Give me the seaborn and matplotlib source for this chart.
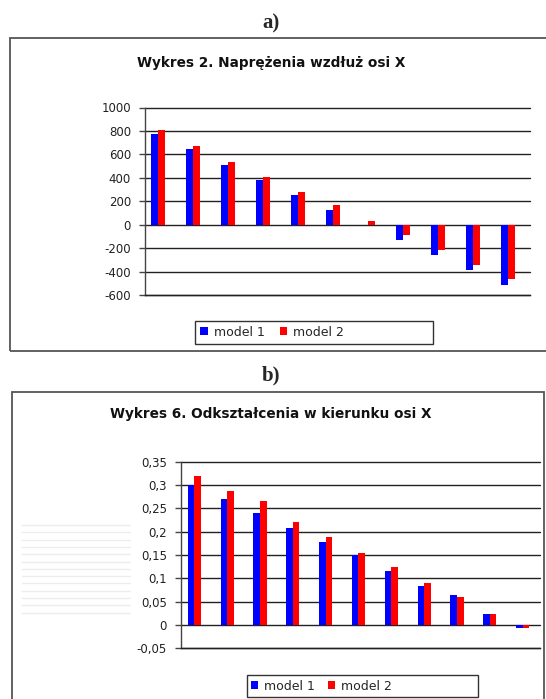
import matplotlib
matplotlib.use("Agg")
import matplotlib.pyplot as plt
from matplotlib.patches import Rectangle
from matplotlib.lines import Line2D
import seaborn as sns
import pandas as pd

# ---- data -------------------------------------------------------------
points = list(range(1, 12))
models = ["model 1", "model 2"]

stress_model1 = [772, 644, 511, 384, 251, 127, 0, -133, -260, -385, -517]
stress_model2 = [805, 670, 534, 404, 282, 166, 34, -91, -220, -343, -466]
stress_ticks = [-600, -400, -200, 0, 200, 400, 600, 800, 1000]
stress_labels = ["-600", "-400", "-200", "0", "200", "400", "600", "800", "1000"]

strain_model1 = [0.300, 0.270, 0.239, 0.207, 0.178, 0.149, 0.116, 0.084, 0.064, 0.024, -0.006]
strain_model2 = [0.320, 0.288, 0.265, 0.220, 0.189, 0.155, 0.124, 0.089, 0.059, 0.024, -0.006]
strain_ticks = [-0.05, 0, 0.05, 0.1, 0.15, 0.2, 0.25, 0.3, 0.35]
strain_labels = ["-0,05", "0", "0,05", "0,1", "0,15", "0,2", "0,25", "0,3", "0,35"]

title_a = "Wykres 2. Naprężenia wzdłuż osi X"
title_b = "Wykres 6. Odkształcenia w kierunku osi X"

colors = ["#0000ff", "#ff0000"]

# ---- style ------------------------------------------------------------
sns.set_style("white")
plt.rcParams["font.family"] = ["DejaVu Sans"]
plt.rcParams["axes.unicode_minus"] = False

W, H = 546, 699
fig = plt.figure(figsize=(W / 100, H / 100), dpi=100)
fig.patch.set_facecolor("white")


def fx(px):
    return px / W


def fy(py):
    return 1 - py / H


def long_frame(v1, v2):
    return pd.DataFrame({
        "point": [str(p) for p in points] * 2,
        "model": [models[0]] * len(points) + [models[1]] * len(points),
        "value": list(v1) + list(v2),
    })


def style_axes(ax, ticks, labels, ylim, xlim):
    ax.set_ylim(*ylim)
    ax.set_xlim(*xlim)
    ax.set_yticks(ticks)
    ax.set_yticklabels(labels)
    ax.set_xticks([])
    ax.set_xlabel("")
    ax.set_ylabel("")
    ax.yaxis.grid(True, color="#222222", lw=1.0)
    for gl in ax.yaxis.get_gridlines():
        gl.set_clip_on(False)
    ax.set_axisbelow(True)
    for s in ["top", "right"]:
        ax.spines[s].set_visible(False)
    ax.spines["left"].set_color("#444444")
    ax.spines["bottom"].set_color("#222222")
    ax.spines["left"].set_linewidth(1.0)
    ax.spines["bottom"].set_linewidth(1.0)
    ax.tick_params(axis="y", direction="out", length=4, width=1.0,
                   color="#444444", pad=6, labelsize=8.5, labelcolor="#222222",
                   left=True)
    ax.set_facecolor("none")


def panel_legend(ax, x_left, y_center, box, colspace):
    handles, labels = ax.get_legend_handles_labels()
    if ax.get_legend() is not None:
        ax.get_legend().remove()
    for h in handles:
        h.set_linewidth(0)
        h.set_edgecolor("none")
    fig.legend(handles, labels, loc="center left",
               bbox_to_anchor=(fx(x_left), fy(y_center)),
               frameon=False, ncol=2, fontsize=9,
               handlelength=0.6, handleheight=0.6, handletextpad=0.5,
               columnspacing=colspace, borderpad=0, borderaxespad=0)
    x0, y0, x1, y1 = box
    fig.patches.append(Rectangle((fx(x0), fy(y1)), fx(x1) - fx(x0), fy(y0) - fy(y1),
                                 transform=fig.transFigure, fill=False,
                                 ec="#333333", lw=1.0))


# ---- outer frames and panel letters ------------------------------------
fig.patches.append(Rectangle((fx(10), fy(351)), fx(548) - fx(10), fy(37.5) - fy(351),
                             transform=fig.transFigure, fill=False, ec="#555555", lw=1.3))
fig.patches.append(Rectangle((fx(12), fy(705)), fx(544) - fx(12), fy(391.7) - fy(705),
                             transform=fig.transFigure, fill=False, ec="#555555", lw=1.3))

fig.text(fx(271), fy(23), "a)", ha="center", va="center",
         family=["Liberation Serif"], weight="bold", fontsize=15)
fig.text(fx(271), fy(375), "b)", ha="center", va="center",
         family=["Liberation Serif"], weight="bold", fontsize=15)

fig.text(fx(271), fy(63), title_a, ha="center", va="center",
         weight="bold", fontsize=9.8, color="#111111")
fig.text(fx(271), fy(414), title_b, ha="center", va="center",
         weight="bold", fontsize=9.8, color="#111111")

# faint ruled lines on the left of panel b
for i in range(13):
    y = 525 + i * 7.3
    fig.lines.append(Line2D([fx(22), fx(130)], [fy(y), fy(y)],
                            transform=fig.transFigure, color="#ededed", lw=1.0))

# ---- panel a: stress ---------------------------------------------------
ax1 = fig.add_axes([fx(145), fy(295), fx(530) - fx(145), fy(107.5) - fy(295)])
sns.barplot(data=long_frame(stress_model1, stress_model2), x="point", y="value",
            hue="model", palette=colors, width=0.4, ax=ax1, saturation=1,
            errorbar=None, linewidth=0, edgecolor="none")
style_axes(ax1, stress_ticks, stress_labels, (-600, 1000), (-0.371, 10.63))
panel_legend(ax1, 200, 332.3, (195, 320.7, 433, 344), 1.2)

# ---- panel b: strain ---------------------------------------------------
ax2 = fig.add_axes([fx(181), fy(648.3), fx(540) - fx(181), fy(461.7) - fy(648.3)])
sns.barplot(data=long_frame(strain_model1, strain_model2), x="point", y="value",
            hue="model", palette=colors, width=0.4, ax=ax2, saturation=1,
            errorbar=None, linewidth=0, edgecolor="none")
style_axes(ax2, strain_ticks, strain_labels, (-0.05, 0.35), (-0.405, 10.53))
panel_legend(ax2, 250.5, 686, (246.7, 675, 478, 697), 1.0)

fig.savefig("out.png", dpi=100, facecolor="white")
